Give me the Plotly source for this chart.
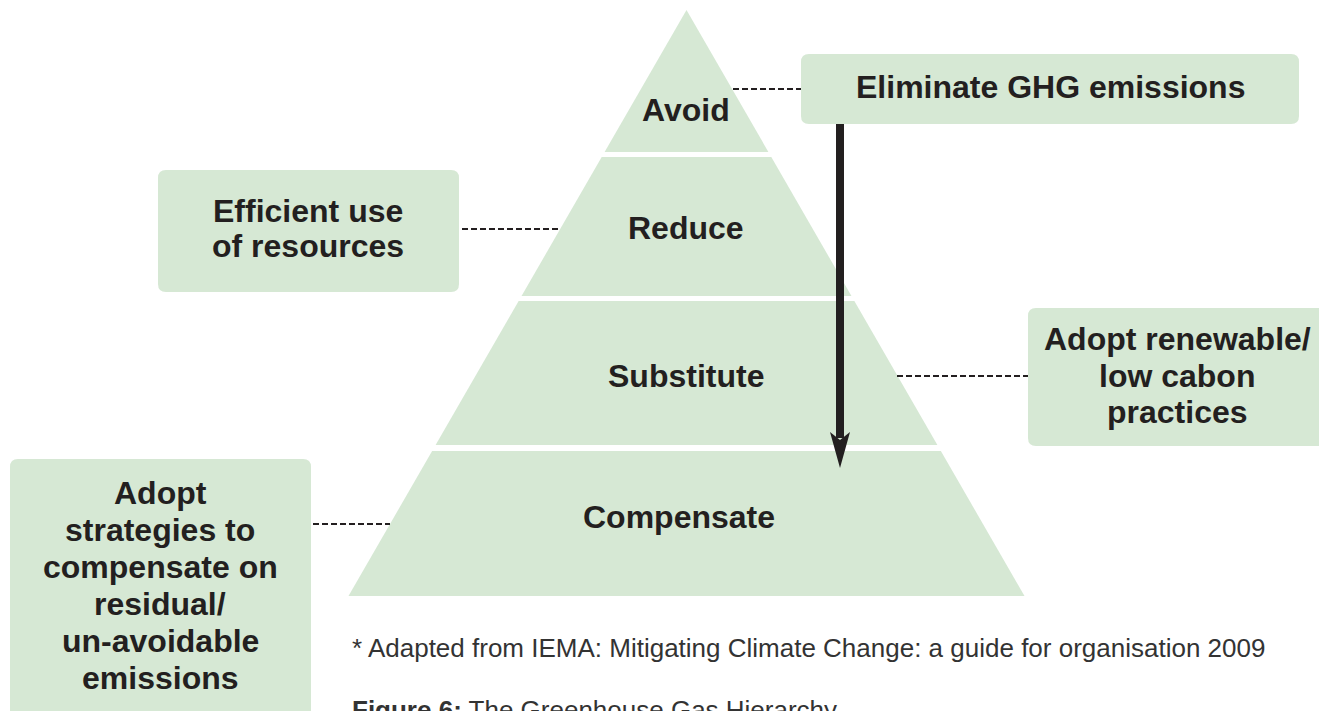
import plotly.graph_objects as go

# ---- content ----
levels = ["Avoid", "Reduce", "Substitute", "Compensate"]
actions = [
    ["Eliminate GHG emissions"],
    ["Efficient use", "of resources"],
    ["Adopt renewable/", "low cabon", "practices"],
    ["Adopt", "strategies to", "compensate on", "residual/", "un-avoidable", "emissions"],
]
source_note = "* Adapted from IEMA: Mitigating Climate Change: a guide for organisation 2009"
fig_label = "Figure 6:"
fig_title = " The Greenhouse Gas Hierarchy"

# ---- layout geometry (page pixels) ----
W, H = 1327, 711
PAGE_OFF = 8  # default body margin of the html page
GREEN = "#d6e8d4"
INK = "#231f20"
FONT = "Liberation Sans"

APEX_X, APEX_Y = 686.5, 10
BASE_Y, HALF_BASE = 596, 338
band_top = [10, 157, 301, 451]
band_bot = [152, 296, 445, 596]
label_pos = [(686, 110), (686, 228), (686, 376), (679, 517)]

boxes = [(801, 54, 1299, 124), (158, 170, 459, 292), (1028, 308, 1340, 446), (10, 459, 311, 740)]
box_text_x = [1050, 308, 1177, 160]
box_text_y = [[87], [211, 246], [339, 376, 412], [493, 530, 567, 604, 641, 678]]
connectors = [(733, 801, 89), (462, 560, 229), (897, 1028, 376), (313, 390, 524)]


def half(y):
    return (y - APEX_Y) / (BASE_Y - APEX_Y) * HALF_BASE


def rounded_rect(x0, y0, x1, y1, r=8):
    return (f"M{x0+r},{y0} L{x1-r},{y0} Q{x1},{y0} {x1},{y0+r} "
            f"L{x1},{y1-r} Q{x1},{y1} {x1-r},{y1} L{x0+r},{y1} "
            f"Q{x0},{y1} {x0},{y1-r} L{x0},{y0+r} Q{x0},{y0} {x0+r},{y0} Z")


fig = go.Figure()

# pyramid bands
for i, name in enumerate(levels):
    t, b = band_top[i], band_bot[i]
    if i == 0:
        xs = [APEX_X, APEX_X + half(b), APEX_X - half(b), APEX_X]
        ys = [t, b, b, t]
    else:
        xs = [APEX_X - half(t), APEX_X + half(t), APEX_X + half(b), APEX_X - half(b), APEX_X - half(t)]
        ys = [t, t, b, b, t]
    fig.add_trace(go.Scatter(x=xs, y=ys, mode="lines", fill="toself", fillcolor=GREEN,
                             line=dict(width=0, color=GREEN), hoverinfo="skip", showlegend=False))

shapes = []
for (x0, y0, x1, y1) in boxes:
    shapes.append(dict(type="path", path=rounded_rect(x0, y0, x1, y1), xref="x", yref="y",
                       fillcolor=GREEN, line=dict(width=0), layer="below"))
for (xa, xb, y) in connectors:
    shapes.append(dict(type="line", x0=xa, x1=xb, y0=y, y1=y, xref="x", yref="y",
                       line=dict(color=INK, width=2, dash="6px,3px")))
# arrow
AX, A_TOP, A_HEAD, A_TIP = 840, 124, 432, 468
shapes.append(dict(type="line", x0=AX, x1=AX, y0=A_TOP, y1=A_HEAD + 6, xref="x", yref="y",
                   line=dict(color=INK, width=8)))
shapes.append(dict(type="path", xref="x", yref="y",
                   path=f"M{AX-10},{A_HEAD} L{AX},{A_HEAD+8} L{AX+10},{A_HEAD} L{AX},{A_TIP} Z",
                   fillcolor=INK, line=dict(width=0)))

annotations = []
for (x, y), name in zip(label_pos, levels):
    annotations.append(dict(x=x, y=y, text=name, showarrow=False, xref="x", yref="y",
                            font=dict(family=FONT, size=32, color=INK, weight="bold")))
for lines, cx, ys in zip(actions, box_text_x, box_text_y):
    for line, y in zip(lines, ys):
        annotations.append(dict(x=cx, y=y, text=line, showarrow=False, xref="x", yref="y",
                                font=dict(family=FONT, size=32, color=INK, weight="bold")))
annotations.append(dict(x=350, y=648, text=source_note, showarrow=False, xanchor="left",
                        xref="x", yref="y", font=dict(family=FONT, size=26, color="#333333")))
annotations.append(dict(x=350, y=693, text=f"<b>{fig_label}</b>{fig_title}", showarrow=False,
                        xanchor="left", yanchor="top", xref="x", yref="y",
                        font=dict(family=FONT, size=26, color="#333333")))

fig.update_layout(
    width=W, height=H, margin=dict(l=0, r=0, t=0, b=0),
    paper_bgcolor="white", plot_bgcolor="white",
    xaxis=dict(range=[PAGE_OFF, W + PAGE_OFF], visible=False, fixedrange=True),
    yaxis=dict(range=[H + PAGE_OFF, PAGE_OFF], visible=False, fixedrange=True),
    shapes=shapes, annotations=annotations, showlegend=False,
)
fig.write_html("out.html")
